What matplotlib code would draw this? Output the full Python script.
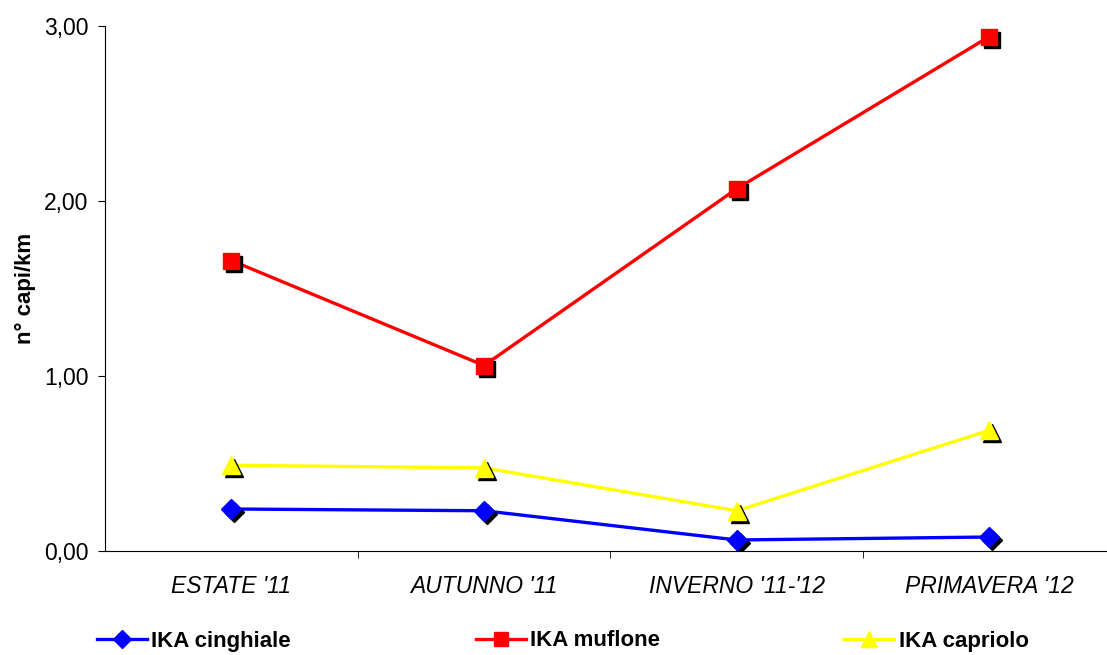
import matplotlib.pyplot as plt
import matplotlib.transforms as mtransforms
from matplotlib.lines import Line2D
from matplotlib.ticker import FuncFormatter
import numpy as np

plt.rcParams['font.family'] = ['Liberation Sans', 'DejaVu Sans']

stagioni = ["ESTATE '11", "AUTUNNO '11", "INVERNO '11-'12", "PRIMAVERA '12"]
cinghiale = [0.24, 0.23, 0.063, 0.08]
muflone = [1.66, 1.06, 2.07, 2.94]
capriolo = [0.49, 0.475, 0.23, 0.69]

serie = [
    ("IKA cinghiale", cinghiale, "#0000ff", "D", 10),
    ("IKA muflone", muflone, "#ff0000", "s", 11),
    ("IKA capriolo", capriolo, "#ffff00", "^", 13),
]

fig = plt.figure(figsize=(11.07, 6.55), dpi=100)
ax = fig.add_axes([105 / 1107, 104 / 655, 1002 / 1107, 525 / 655])

x = np.arange(len(stagioni))
# ombra nera spostata sotto i marker
ombra = ax.transData + mtransforms.ScaledTranslation(3 / 100, -3 / 100, fig.dpi_scale_trans)

handles = []
for nome, valori, colore, marker, ms in serie:
    ax.plot(x, valori, color=colore, lw=2.4, zorder=2)
    ax.plot(x, valori, ls='none', marker=marker, ms=ms, color='black', transform=ombra, zorder=3)
    ax.plot(x, valori, ls='none', marker=marker, ms=ms, color=colore, zorder=4)
    handles.append(Line2D([], [], color=colore, lw=2.4, marker=marker, ms=ms * 0.9, label=nome))

ax.set_xlim(-0.5, -0.5 + 1002 / 252.7)
ax.set_ylim(0, 3)
ax.set_yticks([0, 1, 2, 3])
ax.yaxis.set_major_formatter(FuncFormatter(lambda v, p: f"{v:.2f}".replace('.', ',')))
ax.set_xticks(x)
ax.set_xticklabels(stagioni, fontstyle='italic')
ax.set_xticks(x[:-1] + 0.5, minor=True)
ax.tick_params(axis='x', which='major', length=0, pad=17, labelsize=16.5)
ax.tick_params(axis='x', which='minor', length=5, direction='out')
ax.tick_params(axis='y', length=5, direction='out', labelsize=16.5, pad=7)

ax.spines['top'].set_visible(False)
ax.spines['right'].set_visible(False)
ax.set_ylabel("n° capi/km", fontsize=16, fontweight='bold', labelpad=6)

fig.legend(handles=handles, loc='center left', bbox_to_anchor=(77 / 1107, 14 / 655), ncol=3,
           frameon=False, handlelength=2.25, handletextpad=0.2, columnspacing=8.3,
           prop={'weight': 'bold', 'size': 16})

fig.savefig("out.png", dpi=100)
